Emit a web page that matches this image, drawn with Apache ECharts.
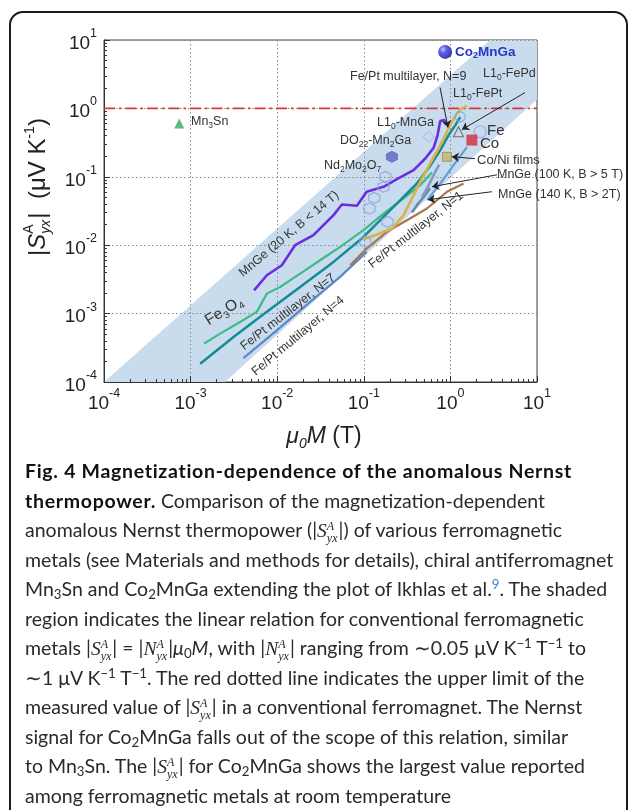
<!DOCTYPE html>
<html><head><meta charset="utf-8">
<script src="https://cdn.jsdelivr.net/npm/echarts@6/dist/echarts.min.js"></script>
<style>
html,body{margin:0;padding:0;width:629px;height:810px;overflow:hidden;background:#fff}
#frame{position:absolute;left:9px;top:11px;width:619px;height:840px;border:2px solid #1a1a1a;border-radius:14px;box-sizing:border-box}
#chart{position:absolute;left:0;top:0;width:629px;height:450px}
#cap{position:absolute;left:25px;top:0;width:600px;font-family:Lato,'Open Sans',sans-serif;font-size:19.5px;color:#2a2a2a}
.ln{position:absolute;left:0;white-space:nowrap;line-height:24px;height:24px}
.ln b{font-weight:700;color:#111;letter-spacing:0.7px}
.sub{font-size:0.68em;vertical-align:-0.25em;line-height:0}
.sup{font-size:0.68em;vertical-align:0.5em;line-height:0}
.ss{display:inline-block;vertical-align:-0.42em;font-size:0.62em;line-height:1.0em;font-family:'Liberation Serif',serif;font-style:italic;text-align:left;margin-right:1px}
.ss span{display:block}
.sv{font-family:'Liberation Serif',serif;font-style:italic}
</style>
</head><body>
<div id="chart"></div>
<div id="frame"></div>
<div id="cap"></div>
<script>
// ---------------- data ----------------
const bandVertices = [[1e-4,1e-4],[2.87,10],[10,10],[10,1.35],[2.5e-3,1e-4]];
const upperLimit = [[1e-4,1],[10,1]];
const mnGe20K = [[5.41e-3,2.19e-3],[7.59e-3,3.64e-3],[1.13e-2,5.09e-3],[1.61e-2,1.0e-2],[2.62e-2,1.40e-2],[4.47e-2,2.75e-2],[5.58e-2,3.94e-2],[8.32e-2,3.77e-2],[0.108,6.03e-2],[0.169,7.14e-2],[0.241,9.25e-2],[0.376,0.125],[0.513,0.185],[0.640,0.265],[0.711,0.407],[0.764,0.653],[0.849,0.675],[0.895,0.583]];
const fe3o4 = [[1.43e-3,3.64e-4],[2.19e-3,5.09e-4],[3.73e-3,7.55e-4],[5.81e-3,1.06e-3],[7.59e-3,1.96e-3],[1.08e-2,2.45e-3],[1.84e-2,3.85e-3],[3.13e-2,6.03e-3],[5.33e-2,9.46e-3],[9.93e-2,1.66e-2],[0.169,2.90e-2],[0.288,4.82e-2],[0.449,7.55e-2],[0.612,0.116]];
const feptN7 = [[1.29e-3,1.85e-4],[3.13e-3,4.56e-4],[7.59e-3,1.06e-3],[1.84e-2,2.45e-3],[4.47e-2,5.70e-3],[9.93e-2,1.32e-2],[0.169,2.60e-2],[0.264,4.56e-2],[0.410,7.98e-2],[0.585,0.145],[0.764,0.245],[0.953,0.407],[1.14,0.570],[1.30,0.746]];
const feptN4 = [[4.07e-3,2.24e-4],[9.89e-3,5.70e-4],[2.40e-2,1.48e-3],[5.33e-2,3.44e-3],[0.108,7.98e-3]];
const feptN1 = [[6.97e-2,5.09e-3],[0.108,8.93e-3],[0.185,1.57e-2],[0.315,2.32e-2],[0.536,3.44e-2],[0.912,6.03e-2],[1.42,7.98e-2]];
const l10FePtLine = [[9.93e-2,1.22e-2],[0.142,1.43e-2],[0.211,1.75e-2],[0.288,2.75e-2],[0.376,5.40e-2],[0.469,9.46e-2],[0.585,0.157],[0.731,0.260],[0.912,0.456],[1.09,0.714],[1.30,0.977],[1.55,1.09]];
const mnGe100K = [[0.47,0.050],[0.56,0.075],[0.65,0.110],[0.74,0.150]];
const mnGe140K = [[0.36,0.030],[0.42,0.040],[0.50,0.052],[0.58,0.068]];
const coLine = [[0.541,4.56e-2],[0.764,7.98e-2],[1.09,0.148],[1.55,0.272]];
const mn3Sn = [[7.4e-4,0.60]];
const co2MnGa = [[0.87,6.7]];
const nd2Mo2O7 = [[0.177,0.100],[0.169,0.0714],[0.132,0.0493],[0.116,0.0344],[0.188,0.0219],[0.104,0.0112]];
const d022Mn2Ga = [[0.211,0.196]];
const l10MnGa = [[0.560,0.385]];
const l10FePd = [[1.24,0.456]];
const l10FePt = [[1.30,0.755]];
const fe = [[2.21,0.456]];
const co = [[1.77,0.344]];
const coNiFilms = [[0.912,0.196]];
const arrows = [
  [[0.759,2.02],[0.938,0.524]],
  [[7.26,1.70],[1.36,0.490]],
  [[1.92,0.184],[1.04,0.197]],
  [[3.45,0.107],[0.614,0.0716]],
  [[3.02,0.0605],[0.551,0.0462]]
];

// ---------------- chart ----------------
const FONT = 'Liberation Sans';
const chart = echarts.init(document.getElementById('chart'), null, {renderer:'canvas'});
const hexPath = 'path://M0,-10L8.66,-5L8.66,5L0,10L-8.66,5L-8.66,-5Z';
const tickRich = {
  b:{fontSize:19,fontFamily:FONT,color:'#222',lineHeight:26,verticalAlign:'bottom'},
  e:{fontSize:12.5,fontFamily:FONT,color:'#222',verticalAlign:'top',lineHeight:14}
};
function tickFmt(v){ const e = Math.round(Math.log10(v)); return '{b|10}{e|' + e + '}'; }
function axisBase(){
  return {
    type:'log', logBase:10, min:1e-4, max:10, z:1,
    axisLine:{show:true,lineStyle:{color:'#333',width:1}},
    axisTick:{show:true,inside:true,length:6,lineStyle:{color:'#333'}},
    minorTick:{show:true,splitNumber:9,length:3,lineStyle:{color:'#333'}},
    splitLine:{show:true,lineStyle:{type:[1.5,2.5],color:'#8a8a8a',width:1}},
    axisLabel:{formatter:tickFmt,rich:tickRich}
  };
}
const xAx = axisBase(); xAx.axisLabel.margin = 5;
const yAx = axisBase(); yAx.axisLabel.margin = 7;
function lineS(name,data,color,width){
  return {name,type:'line',data,showSymbol:false,symbol:'none',smooth:false,z:2,
    lineStyle:{color,width},silent:true};
}
function scat(name,data,symbol,size,itemStyle,z){
  return {name,type:'scatter',data,symbol,symbolSize:size,itemStyle,z:z||4,silent:true};
}
const series = [
  {name:'band',type:'custom',z:0,silent:true,data:bandVertices,
   renderItem:function(params,api){
     if(params.dataIndex!==0) return null;
     const pts = bandVertices.map(p=>api.coord(p));
     return {type:'polygon',shape:{points:pts},style:{fill:'#c9dcee'}};
   }},
  {name:'upper limit',type:'line',data:upperLimit,showSymbol:false,symbol:'none',z:2,silent:true,
   lineStyle:{color:'#d8363c',width:1.6,type:[11,4,2.5,4]},
   markLine:{silent:true,symbol:['none','arrow'],symbolSize:7,animation:false,
     lineStyle:{color:'#222',width:1,type:'solid'},label:{show:false},
     emphasis:{disabled:true},
     data:arrows.map(a=>[{coord:a[0]},{coord:a[1]}])}},
  lineS('Fe/Pt multilayer, N=4',feptN4,'#5b88c6',2.2),
  lineS('Fe/Pt multilayer, N=1',feptN1,'#a8784e',2.2),
  lineS('Co',coLine,'#5fa0d8',2.2),
  lineS('MnGe (140 K, B > 2T)',mnGe140K,'#6b87ad',2.6),
  lineS('MnGe (100 K, B > 5 T)',mnGe100K,'#7f9cc0',2.6),
  lineS('Fe3O4',fe3o4,'#3dbb8b',2.2),
  lineS('Fe/Pt multilayer, N=7',feptN7,'#178b95',2.5),
  lineS('L10-FePt',l10FePtLine,'#d8b24a',2.6),
  lineS('MnGe (20 K, B < 14 T)',mnGe20K,'#6a2de6',2.6),
  scat('Nd2Mo2O7',nd2Mo2O7,hexPath,11,{color:'rgba(255,255,255,0)',borderColor:'#86a8dc',borderWidth:1.3}),
  scat('DO22-Mn2Ga',d022Mn2Ga,hexPath,11,{color:'#5b66c6',borderColor:'#5b66c6',borderWidth:1}),
  scat('L10-MnGa',l10MnGa,'diamond',11,{color:'rgba(255,255,255,0)',borderColor:'#a9bfe0',borderWidth:1.2}),
  scat('L10-FePd',l10FePd,'triangle',10,{color:'rgba(255,255,255,0)',borderColor:'#555',borderWidth:1.1}),
  scat('L10-FePt',l10FePt,'circle',10,{color:'rgba(255,255,255,0)',borderColor:'#6fb0d8',borderWidth:1.3}),
  scat('Fe',fe,'circle',12,{color:'rgba(255,255,255,0)',borderColor:'#9f9fe0',borderWidth:1.2}),
  scat('Co',co,'rect',11,{color:'#d42a3a'}),
  scat('Co/Ni films',coNiFilms,'rect',9,{color:'#cdb468',borderColor:'#8a7a40',borderWidth:0.8}),
  scat('Mn3Sn',mn3Sn,'triangle',10,{color:'#2eab5d'}),
  scat('Co2MnGa',co2MnGa,'circle',14,{color:new echarts.graphic.RadialGradient(0.35,0.32,0.75,[
    {offset:0,color:'#b8bcff'},{offset:0.35,color:'#2f35e0'},{offset:1,color:'#0b0b86'}])},5)
];

// annotation texts (label layout, pixels)
const subS = {fontSize:8.5,fontFamily:FONT,verticalAlign:'bottom',lineHeight:11,fill:'#333'};
function txt(t,x,y,opt){
  opt = opt||{};
  return {type:'text',x,y,rotation:(opt.rot||0)*Math.PI/180,z:50,silent:true,
    style:{text:t,fontFamily:FONT,fontSize:opt.size||12.5,fontWeight:opt.bold?'bold':'normal',
      fill:opt.color||'#333',align:opt.align||'left',verticalAlign:'middle',lineHeight:opt.lh||17,
      rich:{s:Object.assign({},subS,{fill:opt.color||'#333',fontWeight:opt.bold?'bold':'normal',fontSize:opt.subSize||8.5})}}};
}
const labels = [
  txt('Mn{s|3}Sn',191,122),
  txt('Co{s|2}MnGa',455,52,{bold:true,color:'#2936c8',size:13.5,subSize:9}),
  txt('Fe/Pt multilayer, N=9',350,77),
  txt('L1{s|0}-FePd',483,74),
  txt('L1{s|0}-FePt',453,94),
  txt('L1{s|0}-MnGa',377,123),
  txt('DO{s|22}-Mn{s|2}Ga',340,141),
  txt('Nd{s|2}Mo{s|2}O{s|7}',324,166),
  txt('Fe',487,131,{size:15}),
  txt('Co',480,144,{size:15}),
  txt('Co/Ni films',477,160,{size:13}),
  txt('MnGe (100 K, B > 5 T)',497,175,{size:12.5}),
  txt('MnGe (140 K, B > 2T)',498,195,{size:12.5}),
  txt('MnGe (20 K, B < 14 T)',289,234,{rot:40,align:'center'}),
  txt('Fe{s|3}O{s|4}',224,311,{rot:32,align:'center',size:15.5,subSize:10,lh:20}),
  txt('Fe/Pt multilayer, N=7',288,312,{rot:38,align:'center'}),
  txt('Fe/Pt multilayer, N=4',298,336,{rot:40,align:'center'}),
  txt('Fe/Pt multilayer, N=1',416,230,{rot:38,align:'center'})
];

// axis titles
const mctx = document.createElement('canvas').getContext('2d');
function mw(t,size,style){ mctx.font=(style||'normal')+' '+size+'px "'+FONT+'"'; return mctx.measureText(t).width; }
const yPieces = [
  {t:'|',s:24},{t:'S',s:24,st:'italic'},
  {stack:[{t:'A',s:14,dy:-9},{t:'yx',s:14,st:'italic',dy:8}]},
  {t:'|',s:24},{t:'  (μV K',s:24},{t:'-1',s:14,dy:-8},{t:')',s:24}
];
let cur = 0; const yKids = [];
yPieces.forEach(p=>{
  const items = p.stack || [p];
  let wmax = 0;
  items.forEach(it=>{
    const w = mw(it.t,it.s,it.st);
    wmax = Math.max(wmax,w);
    yKids.push({type:'text',x:cur,y:it.dy||0,style:{text:it.t,fontFamily:FONT,fontSize:it.s,fontStyle:it.st||'normal',fill:'#222',align:'left',verticalAlign:'middle'}});
  });
  cur += wmax + (p.stack?1:0);
});
yKids.forEach(k=>{k.x -= cur/2;});
const yTitle = {type:'group',x:38,y:187,rotation:Math.PI/2,children:yKids,z:50,silent:true};
const xTitle = {type:'text',x:324,y:437,z:50,silent:true,style:{text:'{i|μ}{s|0}{i|M} (T)',fontFamily:FONT,fontSize:23,fill:'#222',align:'center',verticalAlign:'middle',lineHeight:28,
  rich:{i:{fontStyle:'italic',fontFamily:FONT,fontSize:23,fill:'#222'},s:{fontStyle:'italic',fontFamily:FONT,fontSize:14,fill:'#222',verticalAlign:'bottom',lineHeight:16}}}};

chart.setOption({
  animation:false,
  backgroundColor:'transparent',
  grid:{left:104,top:40,width:433,height:342,show:true,borderColor:'#444',borderWidth:1,containLabel:false},
  xAxis:xAx,
  yAxis:yAx,
  series,
  graphic:[yTitle,xTitle].concat(labels)
});

// ---------------- caption ----------------
const S = '|<span class="sv">S</span><span class="ss"><span>A</span><span>yx</span></span>|';
const N = '|<span class="sv">N</span><span class="ss"><span>A</span><span>yx</span></span>|';
const capLines = [
  '<b>Fig. 4 Magnetization-dependence of the anomalous Nernst</b>',
  '<b>thermopower.</b> Comparison of the magnetization-dependent',
  'anomalous Nernst thermopower ('+S+') of various ferromagnetic',
  'metals (see Materials and methods for details), chiral antiferromagnet',
  'Mn<span class="sub">3</span>Sn and Co<span class="sub">2</span>MnGa extending the plot of Ikhlas et al.<span class="sup" style="color:#3a86d0">9</span>. The shaded',
  'region indicates the linear relation for conventional ferromagnetic',
  'metals '+S+' = '+N+'<i>μ</i><span class="sub">0</span><i>M</i>, with '+N+' ranging from ∼0.05 μV K<span class="sup">−1</span> T<span class="sup">−1</span> to',
  '∼1 μV K<span class="sup">−1</span> T<span class="sup">−1</span>. The red dotted line indicates the upper limit of the',
  'measured value of '+S+' in a conventional ferromagnet. The Nernst',
  'signal for Co<span class="sub">2</span>MnGa falls out of the scope of this relation, similar',
  'to Mn<span class="sub">3</span>Sn. The '+S+' for Co<span class="sub">2</span>MnGa shows the largest value reported',
  'among ferromagnetic metals at room temperature'
];
const cap = document.getElementById('cap');
capLines.forEach((h,i)=>{
  const d = document.createElement('div');
  d.className='ln'; d.style.top = (471 + i*29.5 - 12) + 'px'; d.innerHTML = h;
  cap.appendChild(d);
});
</script>
</body></html>
